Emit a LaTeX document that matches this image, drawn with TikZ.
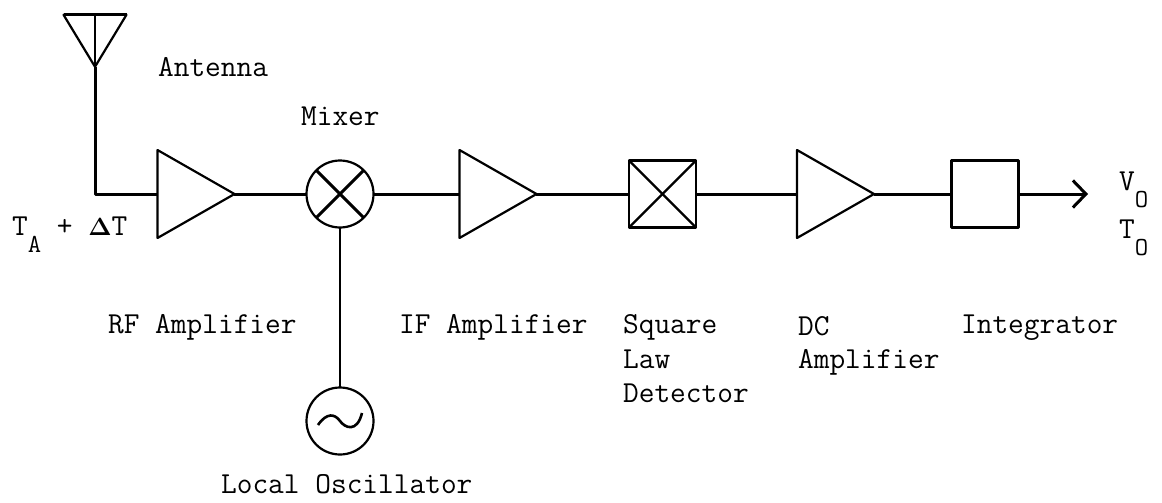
\documentclass[tikz,border=0pt]{standalone}
\usepackage{amsmath}
\usetikzlibrary{shapes.geometric}
\usetikzlibrary{arrows.meta}
\newcommand{\lowered}[1]{\raisebox{-17pt}{\fontsize{26}{26}\selectfont #1}}
\begin{document}
\begin{tikzpicture}
		[x=1pt, y=-1pt, node distance=322.5pt, line width=2.2pt, line join=round,
		wire/.style = {line width=3pt},
		amp/.style = {draw, isosceles triangle, isosceles triangle apex angle=59, isosceles triangle stretches, minimum width=88pt, minimum height=77pt, inner sep=0pt, outer sep=0pt},
		mix/.style = {draw, circle, minimum size=67pt, inner sep=0pt, outer sep=0pt},
		blockbox/.style = {draw, rectangle, minimum size=67pt, inner sep=0pt, outer sep=0pt},
		txt/.style = {anchor=base west, inner sep=0pt, font=\fontsize{30.5}{34}\selectfont\ttfamily}]
	\useasboundingbox (0,0) rectangle (1162,503);
	\node[mix] (mixer) at (340,194) {};
	\node[blockbox] (square) [right of = mixer] {};
	\node[blockbox] (integ) [right of = square] {};
	\node[mix] (osc) [below of = mixer, node distance=227pt] {};
	\node[amp] (rf) [left of = mixer, node distance=157pt] {};
	\node[amp] (if) [right of = mixer, node distance=145pt] {};
	\node[amp] (dc) [right of = square, node distance=160pt] {};
	\node[draw, isosceles triangle, isosceles triangle stretches, shape border rotate=270, minimum width=63pt, minimum height=52pt, inner sep=0pt, outer sep=0pt] (ant) at (95,32.5) {};
	\coordinate (out) at (1088,194);
	% antenna
	\draw (ant.apex) -- (ant.lower side);
	\draw[line width=3.2pt] (ant.left corner) -- (ant.right corner);
	\draw[wire] (ant.apex) |- (rf.lower side);
	% chain
	\draw[wire] (rf.apex) -- (mixer);
	\draw[wire] (mixer) -- (if.lower side);
	\draw[wire] (if.apex) -- (square);
	\draw[wire] (square) -- (dc.lower side);
	\draw[wire] (dc.apex) -- (integ);
	\draw[wire, -{Straight Barb[length=13pt, width=27pt, line width=3pt]}] (integ) -- (out);
	\draw (mixer) -- (osc);
	% insides
	\draw[line width=3pt] (mixer.45) -- (mixer.225);
	\draw[line width=3pt] (mixer.135) -- (mixer.315);
	\draw (square.north west) -- (square.south east);
	\draw (square.north east) -- (square.south west);
	\draw[line width=2.6pt] ([shift={(-22,4)}]osc.center) .. controls ([shift={(-13,-9)}]osc.center) and ([shift={(-5,-7)}]osc.center) .. (osc.center) .. controls ([shift={(5,7)}]osc.center) and ([shift={(17,12)}]osc.center) .. ([shift={(22,-8)}]osc.center);
	% labels
	\node[txt] (antlab) at (157,77) {Antenna};
	\node[txt] (mixlab) at (300,125) {Mixer};
	\node[txt] (inlab) at (11,235) {T\lowered{A} + $\boldsymbol{\Delta}$T};
	\node[txt] (rflab) at (107,333) {RF Amplifier};
	\node[txt] (iflab) at (398,333) {IF Amplifier};
	\node[txt] (sqlab) at (622,333) {Square};
	\node[txt] (sqlab2) at (622,368) {Law};
	\node[txt] (sqlab3) at (622,402) {Detector};
	\node[txt] (dclab) at (797,335) {DC};
	\node[txt] (dclab2) at (797,368) {Amplifier};
	\node[txt] (intlab) at (960,333) {Integrator};
	\node[txt] (osclab) at (220,493) {Local Oscillator};
	\node[txt] (vlab) at (1118,190) {V\lowered{O}};
	\node[txt] (tlab) at (1118,238) {T\lowered{O}};
\end{tikzpicture}
\end{document}
